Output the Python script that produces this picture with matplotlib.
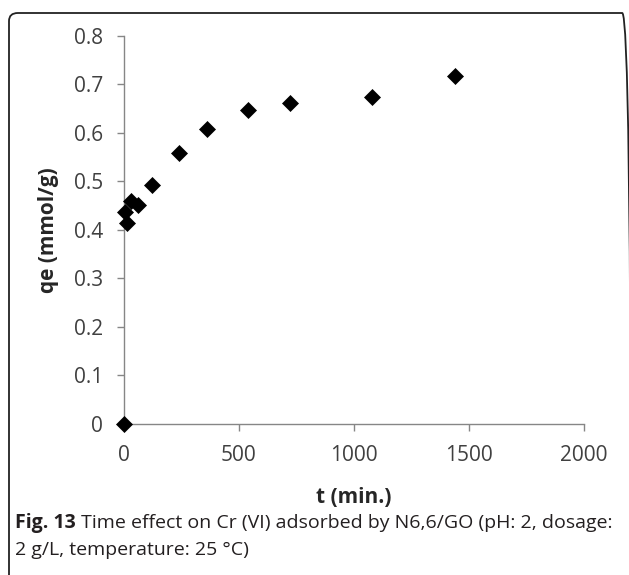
#!/usr/bin/env python3

import numpy as np
import matplotlib
matplotlib.use('Agg')
from matplotlib import pyplot as plt
from matplotlib.patches import FancyBboxPatch

# contact time (min) and adsorbed amount qe (mmol/g)
t_min = [0, 5, 15, 30, 60, 120, 240, 360, 540, 720, 1080, 1440]
qe = [0.0, 0.437, 0.413, 0.459, 0.451, 0.492, 0.559, 0.608, 0.646, 0.660, 0.673, 0.716]

xticks = [0, 500, 1000, 1500, 2000]
yticks = [0, 0.1, 0.2, 0.3, 0.4, 0.5, 0.6, 0.7, 0.8]
ytick_labels = ['0', '0.1', '0.2', '0.3', '0.4', '0.5', '0.6', '0.7', '0.8']

caption_bold = 'Fig. 13'
caption_rest = ' Time effect on Cr (VI) adsorbed by N6,6/GO (pH: 2, dosage:'
caption_line2 = '2 g/L, temperature: 25 \u00b0C)'

plt.rcParams['font.family'] = ['Open Sans', 'DejaVu Sans']

W, H = 629, 575
fig = plt.figure(figsize=(W / 100, H / 100), dpi=100)

# rounded frame around figure + caption (bottom runs off the image)
frame = FancyBboxPatch((9 / W, -0.1), (631 - 9) / W, (H - 13) / H + 0.1,
                       boxstyle='round,pad=0,rounding_size=0.014',
                       transform=fig.transFigure, fill=False,
                       edgecolor='#222222', linewidth=1.3)
fig.patches.append(frame)

ax = fig.add_axes([124 / W, 1 - 424 / H, 460 / W, 388.5 / H])
ax.plot(t_min, qe, linestyle='none', marker='D', markersize=8.5,
        color='black', markeredgewidth=0.5, clip_on=False, zorder=5)

ax.set_xlim(0, 2000)
ax.set_ylim(0, 0.8)
ax.set_xticks(xticks)
ax.set_xticklabels([str(x) for x in xticks])
ax.set_yticks(yticks)
ax.set_yticklabels(ytick_labels)

for side in ['top', 'right']:
    ax.spines[side].set_visible(False)
for side in ['left', 'bottom']:
    ax.spines[side].set_color('#868686')
    ax.spines[side].set_linewidth(1.0)

ax.tick_params(axis='both', direction='out', length=5, width=1.0, color='#868686',
               labelsize=15, labelcolor='#404040')
ax.tick_params(axis='y', pad=10)
ax.tick_params(axis='x', pad=10)

ax.set_xlabel('t (min.)', fontsize=15, fontweight='bold', color='#262626', labelpad=15)
ax.set_ylabel('qe (mmol/g)', fontsize=15, fontweight='bold', color='#262626', labelpad=11)

# caption with bold figure number
cap_size = 14
txt = fig.text(15 / W, 1 - 523 / H, caption_bold, fontsize=cap_size, fontweight='bold',
               color='#231f20', va='center', ha='left')
fig.canvas.draw()
bb = txt.get_window_extent(fig.canvas.get_renderer())
fig.text(bb.x1 / W, 1 - 523 / H, caption_rest, fontsize=cap_size, color='#231f20',
         va='center', ha='left')
fig.text(15 / W, 1 - 550 / H, caption_line2, fontsize=cap_size, color='#231f20',
         va='center', ha='left')

plt.savefig('out.png', dpi=100)
